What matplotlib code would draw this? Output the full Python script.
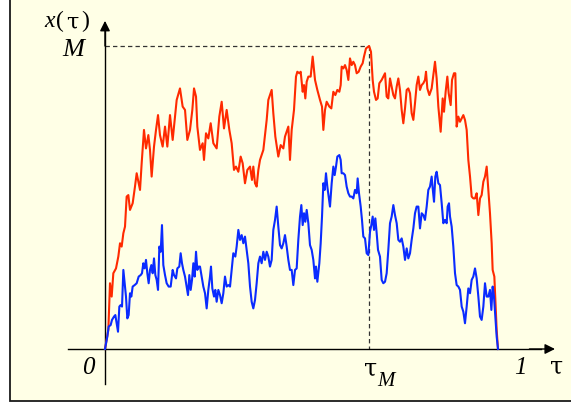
import matplotlib
matplotlib.use("Agg")
import matplotlib.pyplot as plt
from matplotlib.patches import Rectangle
import numpy as np

# ---- data (tau in % of the interval, x in % of the maximum M) ----
tau_red = [0, 0.85, 1.27, 1.70, 2.12, 2.80, 3.39, 3.82, 4.24, 4.67, 5.09, 5.51, 5.94, 6.36, 7.04,
           7.63, 8.06, 8.48, 8.91, 9.33, 9.92, 10.43, 11.03, 11.45, 11.87, 12.47, 12.98, 13.49,
           13.99, 14.67, 15.27, 15.86, 16.54, 17.22, 17.81, 18.24, 19.08, 19.76, 20.36, 20.95,
           21.63, 22.22, 22.65, 23.16, 23.49, 24.17, 24.85, 25.19, 25.70, 26.29, 26.89, 27.57,
           28.41, 29.09, 29.69, 30.28, 30.96, 31.64, 32.23, 32.82, 33.33, 33.93, 34.52, 35.03,
           35.62, 36.22, 36.90, 37.40, 37.74, 38.17, 38.59, 39.02, 39.44, 40.29, 41.14, 41.56,
           42.41, 42.83, 43.34, 44.10, 44.70, 45.38, 45.80, 46.65, 47.07, 47.50, 48.09, 48.60,
           48.94, 49.45, 49.79, 50.30, 50.64, 50.97, 51.32, 51.74, 52.33, 52.84, 53.44, 54.03,
           54.71, 55.22, 55.56, 55.98, 56.40, 57.08, 57.59, 58.10, 58.61, 59.12, 59.63, 59.97,
           60.22, 60.65, 61.07, 61.49, 61.92, 62.34, 62.77, 63.19, 63.61, 64.04, 64.55, 65.06,
           65.56, 65.90, 66.41, 67.20, 67.68, 68.11, 68.45, 68.96, 69.38, 69.80, 70.40, 70.82,
           71.25, 71.67, 72.09, 72.52, 72.94, 73.37, 73.79, 74.22, 74.64, 75.06, 75.49, 75.91,
           76.34, 76.76, 77.18, 77.61, 78.03, 78.46, 78.88, 79.30, 79.73, 80.15, 80.58, 81.00,
           81.42, 81.68, 82.02, 82.53, 83.12, 83.54, 83.97, 84.39, 84.82, 85.41, 85.92, 86.26,
           86.68, 87.11, 87.45, 87.96, 88.30, 88.80, 89.14, 89.48, 89.91, 90.33, 90.76, 91.18,
           91.60, 92.03, 92.45, 92.88, 93.30, 93.72, 94.15, 94.57, 95.00, 95.42, 95.84, 96.27,
           96.69, 97.12, 97.54, 97.96, 98.39, 98.64, 99.07, 99.41, 99.66, 100.0]
x_red = [0, 6.3, 21.7, 17.3, 25.0, 26.6, 30.5, 34.9, 33.8, 38.2, 40.4, 50.3, 50.8, 45.9, 48.1,
         53.6, 58.0, 55.2, 52.5, 61.3, 72.3, 66.2, 70.6, 65.7, 56.9, 66.8, 72.3, 77.2,
         70.6, 66.8, 73.4, 66.8, 77.2, 69.0, 76.7, 82.2, 86.0, 80.0, 78.9, 69.0,
         72.3, 78.9, 86.0, 83.3, 73.4, 65.7, 67.9, 62.4, 71.2, 69.5, 74.5, 67.9,
         66.2, 76.7, 81.6, 72.8, 78.9, 72.3, 67.9, 59.1, 60.2, 58.5, 63.5, 61.3,
         54.7, 59.1, 60.2, 55.8, 60.2, 54.7, 53.6, 59.1, 62.4, 65.7, 75.6, 82.2,
         85.5, 77.8, 70.1, 63.5, 67.3, 66.2, 70.1, 73.4, 62.4, 72.3, 78.9, 89.9,
         91.5, 91.0, 91.5, 84.9, 87.1, 82.7, 88.2, 89.9, 89.9, 96.5, 88.8, 85.5,
         82.2, 80.0, 72.3, 78.9, 81.6, 80.0, 79.4, 84.9, 83.8, 85.5, 84.9, 87.1,
         93.2, 92.6, 93.7, 92.1, 88.8, 95.9, 93.7, 94.8, 93.7, 91.0, 91.5, 93.2,
         94.3, 96.5, 99.2, 100.0, 98.1, 88.8, 84.9, 82.2, 82.7, 87.7, 88.8, 89.9,
         91.0, 83.3, 82.7, 89.3, 86.6, 83.8, 82.7, 86.6, 89.3, 85.5, 78.9, 74.5,
         79.4, 85.5, 86.0, 84.4, 77.8, 75.6, 81.1, 87.1, 89.9, 85.5, 87.1, 87.7,
         88.8, 91.5, 86.0, 83.8, 86.0, 90.4, 94.8, 89.3, 80.0, 71.7, 82.7, 78.3,
         84.9, 89.9, 84.4, 80.5, 88.8, 91.0, 91.0, 73.4, 76.7, 75.0, 76.1, 77.2,
         75.6, 72.3, 62.4, 56.9, 50.3, 49.7, 49.7, 51.4, 44.2, 49.7, 50.8, 55.2,
         56.9, 60.2, 52.5, 44.8, 34.9, 26.1, 23.9, 14.0, 6.3, 0]

tau_blue = [0, 0.59, 0.93, 1.44, 1.78, 2.29, 2.63, 2.97, 3.31, 3.65, 3.99, 4.33, 4.67, 5.00, 5.34,
            5.68, 6.02, 6.36, 6.70, 7.04, 7.55, 8.06, 8.57, 9.08, 9.41, 9.75, 10.09, 10.43,
            10.77, 11.11, 11.45, 11.79, 12.13, 12.47, 12.81, 13.15, 13.49, 13.83, 14.17, 14.50,
            14.84, 15.27, 15.69, 16.20, 16.71, 17.22, 17.56, 18.07, 18.41, 18.91, 19.25, 19.59,
            19.93, 20.36, 20.78, 21.12, 21.46, 21.80, 22.14, 22.48, 22.82, 23.16, 23.49, 23.83,
            24.17, 24.60, 25.02, 25.45, 25.87, 26.29, 26.72, 26.97, 27.31, 27.74, 28.07, 28.41,
            28.84, 29.26, 29.69, 30.11, 30.53, 30.96, 31.38, 31.81, 32.23, 32.65, 33.16, 33.50,
            33.93, 34.35, 34.78, 35.20, 35.62, 36.05, 36.47, 36.90, 37.32, 37.74, 38.17, 38.59,
            39.02, 39.44, 39.86, 40.29, 40.71, 41.14, 41.56, 41.98, 42.41, 42.83, 43.26, 43.68,
            44.10, 44.53, 44.95, 45.38, 45.80, 46.23, 46.65, 47.07, 47.50, 47.92, 48.35, 48.77,
            49.19, 49.62, 49.96, 50.30, 50.64, 50.97, 51.32, 51.74, 52.16, 52.59, 53.01, 53.44,
            53.69, 54.03, 54.54, 54.88, 55.22, 55.56, 55.90, 56.23, 56.57, 56.91, 57.25, 57.68,
            58.10, 58.44, 58.78, 59.12, 59.63, 59.97, 60.22, 60.65, 61.07, 61.49, 61.92, 62.34,
            62.77, 63.19, 63.61, 64.04, 64.29, 64.63, 65.06, 65.39, 65.73, 66.16, 66.58, 67.01,
            67.43, 67.77, 68.11, 68.45, 68.79, 69.13, 69.47, 69.97, 70.40, 70.82, 71.25, 71.67,
            72.09, 72.52, 72.94, 73.37, 73.79, 74.22, 74.64, 75.06, 75.49, 75.91, 76.34, 76.76,
            77.18, 77.61, 78.03, 78.46, 78.88, 79.30, 79.73, 80.15, 80.58, 81.00, 81.42, 81.85,
            82.27, 82.70, 83.12, 83.38, 83.72, 84.05, 84.39, 84.82, 85.24, 85.67, 86.09, 86.51,
            86.94, 87.19, 87.53, 87.79, 88.21, 88.63, 89.06, 89.48, 89.91, 90.33, 90.76, 91.18,
            91.60, 92.03, 92.45, 92.88, 93.30, 93.72, 94.15, 94.57, 95.00, 95.42, 95.84, 96.27,
            96.69, 97.12, 97.54, 97.96, 98.31, 98.64, 98.98, 99.32, 99.66, 100.0]
x_blue = [0, 4.1, 7.4, 7.9, 9.6, 10.7, 11.2, 8.5, 5.7, 14.0, 14.5, 14.0, 26.1, 21.7, 17.3,
          10.1, 11.2, 18.4, 17.3, 20.6, 21.1, 21.7, 23.9, 24.4, 25.0, 28.3, 26.6, 29.4,
          25.0, 21.7, 26.1, 27.7, 25.0, 29.9, 24.4, 22.8, 19.5, 33.8, 32.1, 40.9,
          27.7, 24.4, 21.7, 20.6, 20.6, 26.1, 24.4, 23.3, 26.6, 27.2, 31.6, 28.3,
          26.1, 23.9, 20.6, 17.8, 24.4, 19.5, 22.8, 28.3, 23.9, 32.1, 26.1, 27.2,
          27.2, 23.9, 20.6, 18.4, 13.4, 19.5, 23.9, 27.2, 20.0, 17.3, 19.5, 15.6,
          19.5, 17.8, 15.1, 18.4, 23.9, 20.6, 21.1, 20.6, 26.1, 31.6, 30.5, 33.8,
          39.3, 36.0, 37.6, 34.9, 37.1, 32.7, 28.3, 20.6, 15.6, 13.4, 16.2, 21.7,
          28.3, 30.5, 28.3, 32.1, 29.4, 32.1, 30.5, 27.2, 29.4, 39.3, 42.6, 47.0,
          40.4, 34.3, 33.2, 34.9, 37.6, 33.8, 29.4, 26.1, 26.1, 21.1, 26.1, 26.6,
          36.0, 43.7, 47.5, 40.9, 44.8, 42.0, 45.9, 41.5, 34.3, 32.7, 29.4, 23.3,
          27.2, 22.2, 28.3, 34.9, 43.7, 54.7, 52.5, 58.0, 53.6, 50.3, 47.0, 54.7,
          60.2, 57.4, 60.2, 63.5, 64.0, 62.4, 58.0, 58.0, 57.4, 53.6, 51.4, 50.3,
          50.3, 49.7, 52.5, 51.4, 56.3, 51.4, 47.0, 42.6, 37.1, 36.5, 31.6, 31.0,
          38.7, 40.9, 43.7, 39.3, 43.1, 38.2, 32.7, 30.5, 22.8, 21.7, 22.2, 25.0,
          32.7, 41.5, 43.7, 47.5, 44.2, 41.5, 36.0, 35.4, 36.5, 33.8, 29.4, 33.2,
          29.9, 31.6, 36.0, 39.8, 44.8, 47.0, 47.0, 39.8, 44.8, 44.2, 42.6, 47.0,
          52.5, 53.6, 56.9, 53.0, 48.6, 56.9, 58.5, 54.7, 54.1, 48.1, 41.5, 42.6,
          41.5, 47.0, 48.1, 43.7, 40.4, 33.8, 25.0, 21.1, 20.6, 19.5, 14.0, 12.3,
          8.5, 14.0, 20.0, 18.4, 22.8, 23.9, 26.6, 23.3, 17.3, 10.7, 9.6, 14.0,
          21.7, 17.3, 17.3, 19.5, 12.9, 20.6, 17.3, 10.7, 4.1, 0]

label_max = "M"
label_zero = "0"
label_one = "1"
label_tau = "τ"
label_var = "x"

# ---- figure ----
W, H = 571, 405
fig = plt.figure(figsize=(W / 100, H / 100), dpi=100, facecolor="white")

ax = fig.add_axes([0, 0, 1, 1])
ax.set_facecolor("none")
ax.axis("off")
# map: tau 0..100 -> px 105..498 ; x 0..100 -> px 349..46
ax.set_xlim(-105 / 3.93, (W - 105) / 3.93)
ax.set_ylim((349 - H) / 3.03, 349 / 3.03)

frame = Rectangle((9.5 / W, 1 - 400.5 / H), 1.2, 1.2, transform=fig.transFigure,
                  facecolor="#FFFFE6", edgecolor="#1a1a1a", lw=1.3, zorder=0, clip_on=False)
ax.add_artist(frame)

serif = "Liberation Serif"
greek = "DejaVu Serif"

# axes with arrows
ax.plot([-9.4, 111], [0, 0], color="black", lw=1.0, zorder=3)
ax.plot([0, 0], [-11.6, 105], color="black", lw=1.0, zorder=3)
ax.annotate("", xy=(114.5, 0), xytext=(108, 0),
            arrowprops=dict(arrowstyle="-|>,head_length=0.6,head_width=0.3",
                            color="black", lw=1.0, shrinkA=0, shrinkB=0), zorder=3)
ax.annotate("", xy=(0, 108.3), xytext=(0, 100),
            arrowprops=dict(arrowstyle="-|>,head_length=0.6,head_width=0.3",
                            color="black", lw=1.0, shrinkA=0, shrinkB=0), zorder=3)

# curves
ax.plot(tau_red, x_red, color="#FF2A00", lw=1.5, zorder=4)
ax.plot(tau_blue, x_blue, color="#0A2BFF", lw=1.5, zorder=5)

# maximum marker lines
i_max = int(np.argmax(x_red))
tM, xM = tau_red[i_max], x_red[i_max]
ax.plot([0, tM], [xM, xM], color="#333333", lw=0.9, ls=(0, (3.5, 2.5)), zorder=2)
ax.plot([tM, tM], [xM, 0], color="#333333", lw=0.9, ls=(0, (3.5, 2.5)), zorder=2)

# labels
yl = 108.1
ax.text(-14.0, yl, label_var, fontsize=17, family=serif, style="italic", ha="center", va="center")
ax.text(-11.4, yl, "(", fontsize=17, family=serif, ha="center", va="center")
ax.text(-8.3, yl - 0.6, label_tau, fontsize=16, family=greek, ha="center", va="center")
ax.text(-5.0, yl, ")", fontsize=17, family=serif, ha="center", va="center")
ax.text(-8.1, 98.7, label_max, fontsize=19, family=serif, style="italic",
        ha="center", va="center")
ax.text(-4.3, -6.4, label_zero, fontsize=18, family=serif, style="italic",
        ha="center", va="center")
ax.text(105.6, -6.4, label_one, fontsize=18, family=serif, style="italic",
        ha="center", va="center")
ax.text(114.8, -5.8, label_tau, fontsize=17, family=greek, ha="center", va="center")
ax.text(tM + 0.3, -6.6, label_tau, fontsize=17, family=greek, ha="center", va="center")
ax.text(tM + 4.2, -10.8, label_max, fontsize=15, family=serif, style="italic",
        ha="center", va="center")

fig.savefig("out.png", dpi=100, facecolor="white")
